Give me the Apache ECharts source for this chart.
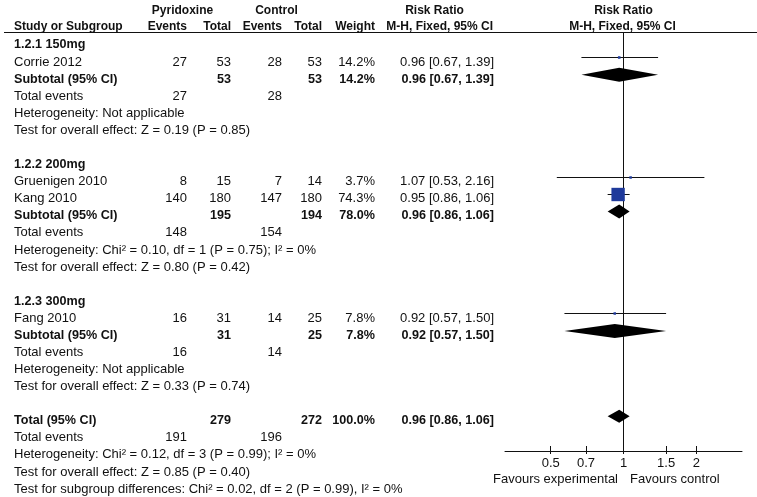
<!DOCTYPE html>
<html><head><meta charset="utf-8">
<script src="https://cdn.jsdelivr.net/npm/echarts@6/dist/echarts.min.js"></script>
<style>html,body{margin:0;padding:0;background:#fff}#c{width:757px;height:497px}</style>
</head><body><div id="c"></div>
<script>
// ---------- data ----------
const groupNames = ['1.2.1 150mg', '1.2.2 200mg', '1.2.3 300mg'];
const studyNames = ['Corrie 2012', 'Gruenigen 2010', 'Kang 2010', 'Fang 2010'];
const studyGroup = [0, 1, 1, 2];
const pyrEvents = [27, 8, 140, 16];
const pyrTotal = [53, 15, 180, 31];
const ctlEvents = [28, 7, 147, 14];
const ctlTotal = [53, 14, 180, 25];
const studyWeight = [14.2, 3.7, 74.3, 7.8];
const studyRR = [0.96, 1.07, 0.95, 0.92];
const studyLo = [0.67, 0.53, 0.86, 0.57];
const studyHi = [1.39, 2.16, 1.06, 1.50];
const subPyrTotal = [53, 195, 31];
const subCtlTotal = [53, 194, 25];
const subPyrEvents = [27, 148, 16];
const subCtlEvents = [28, 154, 14];
const subWeight = [14.2, 78.0, 7.8];
const subRR = [0.96, 0.96, 0.92];
const subLo = [0.67, 0.86, 0.57];
const subHi = [1.39, 1.06, 1.50];
const subHet = ['Heterogeneity: Not applicable',
  'Heterogeneity: Chi\u00b2 = 0.10, df = 1 (P = 0.75); I\u00b2 = 0%',
  'Heterogeneity: Not applicable'];
const subTest = ['Test for overall effect: Z = 0.19 (P = 0.85)',
  'Test for overall effect: Z = 0.80 (P = 0.42)',
  'Test for overall effect: Z = 0.33 (P = 0.74)'];
const totalValues = { pyrTotal: 279, ctlTotal: 272, weight: 100.0, rr: 0.96, lo: 0.86, hi: 1.06, pyrEvents: 191, ctlEvents: 196 };
const totalHet = 'Heterogeneity: Chi\u00b2 = 0.12, df = 3 (P = 0.99); I\u00b2 = 0%';
const totalTest = 'Test for overall effect: Z = 0.85 (P = 0.40)';
const subgroupTest = 'Test for subgroup differences: Chi\u00b2 = 0.02, df = 2 (P = 0.99), I\u00b2 = 0%';
const axisTicks = [0.5, 0.7, 1, 1.5, 2];
const axisTickLabels = ['0.5', '0.7', '1', '1.5', '2'];
const favourLabels = ['Favours experimental', 'Favours control'];

// ---------- build rows ----------
const fmtW = w => w.toFixed(1) + '%';
const fmtRR = (r, l, h) => r.toFixed(2) + ' [' + l.toFixed(2) + ', ' + h.toFixed(2) + ']';
const tableRows = [];
const forestMarks = [];
let rowIdx = 0;
groupNames.forEach((g, gi) => {
  tableRows.push({ row: rowIdx++, label: g, bold: true, cells: [] });
  studyNames.forEach((s, si) => {
    if (studyGroup[si] !== gi) return;
    forestMarks.push({ row: rowIdx, kind: 'study', rr: studyRR[si], lo: studyLo[si], hi: studyHi[si], w: studyWeight[si] });
    tableRows.push({ row: rowIdx++, label: s, bold: false,
      cells: [pyrEvents[si], pyrTotal[si], ctlEvents[si], ctlTotal[si], fmtW(studyWeight[si]), fmtRR(studyRR[si], studyLo[si], studyHi[si])] });
  });
  forestMarks.push({ row: rowIdx, kind: 'diamond', rr: subRR[gi], lo: subLo[gi], hi: subHi[gi], h: 7 });
  tableRows.push({ row: rowIdx++, label: 'Subtotal (95% CI)', bold: true,
    cells: ['', subPyrTotal[gi], '', subCtlTotal[gi], fmtW(subWeight[gi]), fmtRR(subRR[gi], subLo[gi], subHi[gi])] });
  tableRows.push({ row: rowIdx++, label: 'Total events', bold: false, cells: [subPyrEvents[gi], '', subCtlEvents[gi], '', '', ''] });
  tableRows.push({ row: rowIdx++, label: subHet[gi], bold: false, cells: [] });
  tableRows.push({ row: rowIdx++, label: subTest[gi], bold: false, cells: [] });
  rowIdx++;
});
forestMarks.push({ row: rowIdx, kind: 'diamond', rr: totalValues.rr, lo: totalValues.lo, hi: totalValues.hi, h: 6.5 });
tableRows.push({ row: rowIdx++, label: 'Total (95% CI)', bold: true,
  cells: ['', totalValues.pyrTotal, '', totalValues.ctlTotal, fmtW(totalValues.weight), fmtRR(totalValues.rr, totalValues.lo, totalValues.hi)] });
tableRows.push({ row: rowIdx++, label: 'Total events', bold: false, cells: [totalValues.pyrEvents, '', totalValues.ctlEvents, '', '', ''] });
tableRows.push({ row: rowIdx++, label: totalHet, bold: false, cells: [] });
tableRows.push({ row: rowIdx++, label: totalTest, bold: false, cells: [] });
tableRows.push({ row: rowIdx++, label: subgroupTest, bold: false, cells: [] });

// ---------- layout ----------
const FAM = '"Liberation Sans", Arial, sans-serif';
const FONT = '13px ' + FAM;
const BFONT = 'bold 12.6px ' + FAM;
const HFONT = 'bold 12px ' + FAM;
const TXT = '#111';
const labelX = 14;
const colRight = [187, 231, 282, 322, 375, 494];
const ROW0 = 44, ROWH = 17.08;
const tableYMin = -ROW0 / ROWH, tableYMax = (497 - ROW0) / ROWH;
const forestTop = 32, forestBottom = 451;
const fYMin = (forestTop - ROW0) / ROWH, fYMax = (forestBottom - ROW0) / ROWH;
const xMin = Math.pow(10, -0.4899), xMax = Math.pow(10, 0.4899);
const markOffset = -0.2;
const textShift = 1;
const snap = v => Math.round(v - 0.5) + 0.5;

function txt(x, y, text, font, align) {
  return { type: 'text', x: x, y: y, silent: true,
    style: { text: String(text), font: font, fill: TXT, align: align, verticalAlign: 'middle', textAlign: align, textVerticalAlign: 'middle' } };
}

function renderTable(params, api) {
  const r = tableRows[params.dataIndex];
  const y = api.coord([0, r.row])[1] + textShift;
  const f = r.bold ? BFONT : FONT;
  const children = [txt(api.coord([labelX, r.row])[0], y, r.label, f, 'left')];
  r.cells.forEach((c, i) => {
    if (c === '' || c == null) return;
    children.push(txt(api.coord([colRight[i], r.row])[0], y, c, f, 'right'));
  });
  return { type: 'group', children: children };
}

function renderForest(params, api) {
  const m = forestMarks[params.dataIndex];
  const yv = m.row + markOffset;
  const pLo = api.coord([m.lo, yv]);
  const pHi = api.coord([m.hi, yv]);
  const pC = api.coord([m.rr, yv]);
  if (m.kind === 'study') {
    const s = Math.max(2.5, m.w * 0.18);
    const ly = snap(pC[1]);
    return { type: 'group', children: [
      { type: 'line', shape: { x1: pLo[0], y1: ly, x2: pHi[0], y2: ly }, style: { stroke: '#111', lineWidth: 1 } },
      { type: 'rect', shape: { x: pC[0] - s / 2, y: ly - s / 2, width: s, height: s }, style: { fill: '#1f3a9b' } }
    ] };
  }
  return { type: 'polygon', shape: { points: [[pLo[0], pLo[1]], [pC[0], pC[1] - m.h], [pHi[0], pHi[1]], [pC[0], pC[1] + m.h]] },
    style: { fill: '#000' } };
}

function renderAxis(params, api) {
  const children = [];
  axisTicks.forEach((v, i) => {
    const p = api.coord([v, fYMax]);
    const x = snap(p[0]);
    children.push({ type: 'line', shape: { x1: x, y1: p[1] - 5, x2: x, y2: p[1] + 3 }, style: { stroke: '#111', lineWidth: 1 } });
    children.push(txt(p[0], p[1] + 12, axisTickLabels[i], FONT, 'center'));
  });
  const p1 = api.coord([1, fYMax]);
  children.push(txt(p1[0] - 5.5, p1[1] + 28.5, favourLabels[0], FONT, 'right'));
  children.push(txt(p1[0] + 6.5, p1[1] + 28.5, favourLabels[1], FONT, 'left'));
  return { type: 'group', children: children };
}

function head(x, y, text, align) {
  return { type: 'text', x: x, y: y, silent: true,
    style: { text: text, font: HFONT, fill: TXT, align: align, verticalAlign: 'middle', textAlign: align, textVerticalAlign: 'middle' } };
}

const chart = echarts.init(document.getElementById('c'), null, { renderer: 'canvas' });
chart.setOption({
  animation: false,
  backgroundColor: '#fff',
  grid: [
    { left: 0, right: 0, top: 0, height: 497 },
    { left: 505, right: 15, top: forestTop, height: forestBottom - forestTop }
  ],
  xAxis: [
    { gridIndex: 0, type: 'value', min: 0, max: 757, show: false },
    { gridIndex: 1, type: 'log', logBase: 10, min: xMin, max: xMax, position: 'bottom',
      axisLine: { show: true, onZero: false, lineStyle: { color: '#111', width: 1 } },
      axisTick: { show: false }, axisLabel: { show: false }, splitLine: { show: false }, minorTick: { show: false } }
  ],
  yAxis: [
    { gridIndex: 0, type: 'value', inverse: true, min: tableYMin, max: tableYMax, show: false },
    { gridIndex: 1, type: 'value', inverse: true, min: fYMin, max: fYMax, show: false }
  ],
  graphic: [
    { type: 'line', silent: true, shape: { x1: 4, y1: 32.5, x2: 757, y2: 32.5 }, style: { stroke: '#111', lineWidth: 1.2 } },
    head(182.5, 11, 'Pyridoxine', 'center'),
    head(276.5, 11, 'Control', 'center'),
    head(434.5, 11, 'Risk Ratio', 'center'),
    head(623.5, 11, 'Risk Ratio', 'center'),
    head(14, 27, 'Study or Subgroup', 'left'),
    head(187, 27, 'Events', 'right'),
    head(231, 27, 'Total', 'right'),
    head(282, 27, 'Events', 'right'),
    head(322, 27, 'Total', 'right'),
    head(375, 27, 'Weight', 'right'),
    head(493, 27, 'M-H, Fixed, 95% CI', 'right'),
    head(622.5, 27, 'M-H, Fixed, 95% CI', 'center')
  ],
  series: [
    { type: 'custom', xAxisIndex: 0, yAxisIndex: 0, silent: true,
      data: tableRows.map(r => [0, r.row]), renderItem: renderTable },
    { type: 'line', xAxisIndex: 1, yAxisIndex: 1, silent: true, symbol: 'none',
      data: [[1, fYMin], [1, fYMax]], lineStyle: { color: '#111', width: 1 } },
    { type: 'custom', xAxisIndex: 1, yAxisIndex: 1, silent: true, clip: false,
      data: forestMarks.map(m => [m.rr, m.row]), renderItem: renderForest, z: 5 },
    { type: 'custom', xAxisIndex: 1, yAxisIndex: 1, silent: true, clip: false,
      data: [[1, fYMax]], renderItem: renderAxis }
  ]
});
</script>
</body></html>
